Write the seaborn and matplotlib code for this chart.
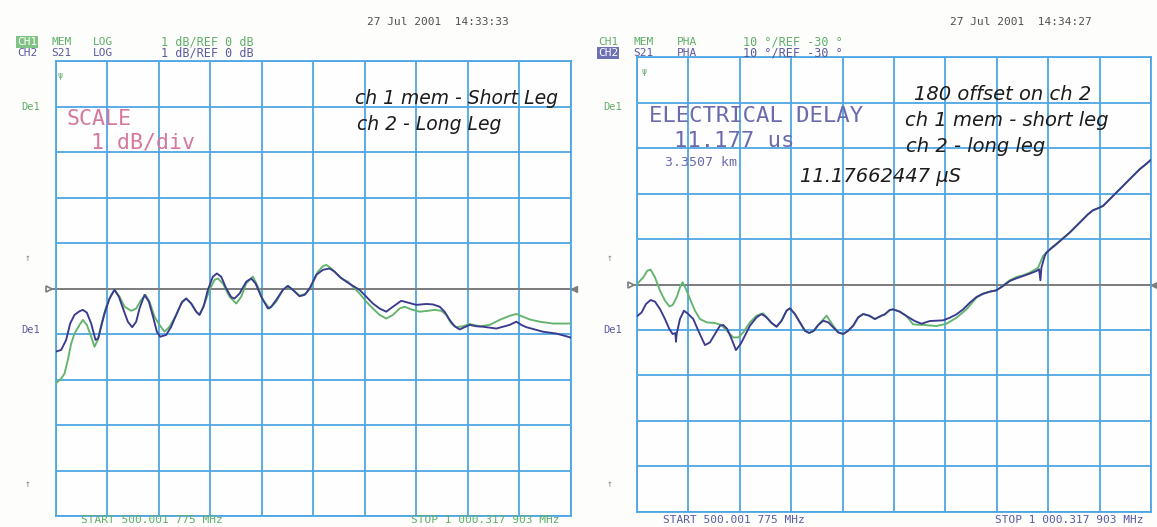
import numpy as np
import pandas as pd
import matplotlib
matplotlib.use("Agg")
import matplotlib.pyplot as plt
import seaborn as sns

# ---------------------------------------------------------------------------
# Sweep settings
# ---------------------------------------------------------------------------
f_start = 500.001775
f_stop = 1000.317903

# Magnitude display (LOG, 1 dB/div, ref 0 dB) -- CH2 S21 (long leg)
mag_freq_ch2 = [500.0, 505.5, 510.35, 514.24, 518.44, 523.30, 526.54, 530.42, 534.63, 538.83,
                541.42, 544.33, 547.57, 552.42, 557.28, 561.49, 566.02, 570.22, 574.43, 578.31,
                581.55, 586.40, 590.61, 595.14, 598.38, 601.61, 607.44, 612.29, 617.15, 622.97,
                626.86, 631.71, 636.57, 639.80, 643.69, 647.89, 652.75, 656.63, 660.84, 665.69,
                670.55, 673.78, 678.64, 685.11, 689.96, 694.17, 699.67, 706.14, 709.38, 714.23,
                720.71, 725.56, 730.42, 736.89, 741.74, 746.60, 753.07, 759.54, 766.01, 770.87,
                775.72, 782.19, 787.05, 795.14, 801.61, 808.08, 814.56, 821.03, 827.50, 835.59,
                842.06, 850.15, 859.86, 866.34, 872.81, 877.66, 882.52, 887.37, 892.23, 897.08,
                901.93, 908.41, 914.88, 921.35, 927.82, 934.30, 940.77, 947.24, 952.09, 956.95,
                966.66, 973.13, 986.07, 997.40, 1000.0]
mag_db_ch2 = [-1.39, -1.35, -1.13, -0.77, -0.58, -0.50, -0.47, -0.53, -0.77, -1.13,
              -1.10, -0.84, -0.55, -0.22, -0.03, -0.18, -0.47, -0.73, -0.85, -0.73,
              -0.44, -0.14, -0.29, -0.66, -0.95, -1.06, -1.02, -0.84, -0.58, -0.29,
              -0.22, -0.33, -0.51, -0.58, -0.40, -0.03, 0.26, 0.33, 0.26, 0.00,
              -0.19, -0.22, -0.11, 0.15, 0.22, 0.11, -0.18, -0.44, -0.40, -0.25,
              -0.03, 0.06, -0.03, -0.17, -0.14, 0.00, 0.30, 0.41, 0.44, 0.37,
              0.26, 0.15, 0.08, -0.03, -0.18, -0.33, -0.44, -0.51, -0.40, -0.27,
              -0.31, -0.36, -0.34, -0.35, -0.40, -0.51, -0.69, -0.83, -0.90, -0.85,
              -0.80, -0.83, -0.84, -0.86, -0.88, -0.84, -0.80, -0.73, -0.80, -0.85,
              -0.91, -0.95, -0.99, -1.06, -1.08]

# Magnitude display -- CH1 MEM (short leg)
mag_freq_ch1 = [500.0, 505.50, 508.74, 511.97, 515.21, 518.44, 523.30, 526.54, 530.42, 534.63,
                537.86, 541.10, 544.33, 549.19, 554.04, 557.28, 562.13, 566.99, 573.46, 578.31,
                583.17, 587.38, 591.26, 596.11, 600.97, 605.82, 610.68, 617.15, 622.00, 626.86,
                631.71, 636.57, 639.80, 644.66, 649.51, 654.37, 657.60, 662.46, 668.93, 675.40,
                680.25, 685.11, 691.58, 696.44, 701.29, 707.76, 714.23, 720.71, 725.56, 730.42,
                736.89, 743.36, 748.21, 754.69, 759.54, 762.78, 767.63, 772.49, 777.34, 783.81,
                788.67, 795.14, 801.61, 808.08, 814.56, 821.03, 827.50, 833.98, 838.83, 845.30,
                853.39, 861.48, 867.95, 874.43, 879.28, 884.13, 888.99, 895.46, 901.93, 911.64,
                921.35, 931.06, 940.77, 947.24, 953.72, 960.19, 969.90, 982.84, 997.40, 1000.0]
mag_db_ch1 = [-2.09, -1.98, -1.87, -1.57, -1.21, -0.99, -0.80, -0.69, -0.80, -1.06,
              -1.28, -1.13, -0.80, -0.40, -0.14, -0.03, -0.18, -0.40, -0.49, -0.44,
              -0.25, -0.14, -0.29, -0.62, -0.80, -0.95, -0.84, -0.58, -0.33, -0.22,
              -0.33, -0.51, -0.58, -0.33, -0.03, 0.19, 0.22, 0.11, -0.18, -0.33,
              -0.18, 0.11, 0.26, 0.04, -0.25, -0.44, -0.29, -0.03, 0.04, -0.03,
              -0.16, -0.11, 0.04, 0.37, 0.49, 0.52, 0.44, 0.33, 0.22, 0.15,
              0.04, -0.11, -0.29, -0.44, -0.58, -0.66, -0.58, -0.44, -0.40, -0.46,
              -0.51, -0.49, -0.47, -0.49, -0.58, -0.77, -0.85, -0.83, -0.78, -0.83,
              -0.80, -0.69, -0.60, -0.56, -0.62, -0.68, -0.73, -0.77, -0.77, -0.77]

# Phase display (PHA, 10 deg/div, ref -30 deg) -- CH2 S21
phase_freq_ch2 = [500.0, 504.54, 508.76, 513.30, 517.51, 522.38, 527.24, 531.46, 534.70, 537.29,
                  537.94, 538.59, 541.83, 545.72, 549.94, 554.80, 559.67, 566.15, 571.02, 575.88,
                  580.74, 583.99, 587.88, 592.09, 596.31, 600.85, 605.06, 609.93, 616.41, 621.28,
                  626.14, 631.00, 635.87, 640.73, 645.60, 648.84, 653.70, 658.56, 663.43, 667.65,
                  672.18, 676.40, 681.26, 686.12, 690.99, 695.85, 700.72, 705.58, 710.44, 715.31,
                  720.17, 726.01, 731.52, 738.00, 741.24, 746.11, 749.35, 755.83, 762.32, 770.42,
                  776.91, 785.02, 797.99, 804.47, 810.96, 817.44, 823.93, 830.41, 836.90, 843.38,
                  849.87, 856.35, 862.84, 869.32, 875.81, 882.29, 888.78, 891.37, 892.67, 893.64,
                  896.88, 898.50, 903.37, 908.23, 914.72, 921.20, 927.69, 934.17, 939.03, 943.90,
                  948.76, 953.63, 958.49, 963.35, 969.84, 976.32, 982.81, 989.29, 994.16, 998.37,
                  1000.0]
phase_deg_ch2 = [-37.01, -36.13, -34.29, -33.41, -33.78, -35.40, -37.60, -39.80, -40.90, -40.68,
                 -42.59, -40.90, -37.60, -35.76, -36.50, -37.60, -40.17, -43.33, -42.74, -40.90,
                 -39.07, -38.92, -39.80, -42.00, -44.43, -43.11, -41.27, -39.07, -37.23, -36.50,
                 -37.23, -38.48, -39.29, -37.97, -35.76, -35.25, -36.50, -38.33, -40.17, -40.68,
                 -40.17, -38.92, -37.97, -38.33, -39.43, -40.54, -40.90, -40.17, -39.07, -37.23,
                 -36.50, -36.86, -37.60, -36.86, -36.57, -35.60, -35.47, -35.98, -36.94, -38.04,
                 -38.63, -38.04, -37.89, -37.31, -36.57, -35.47, -34.00, -32.75, -32.02, -31.58,
                 -31.28, -30.33, -29.23, -28.64, -28.13, -27.61, -27.03, -26.66, -29.08, -26.29,
                 -23.72, -22.99, -22.03, -21.15, -19.83, -18.58, -17.11, -15.65, -14.54, -13.66,
                 -13.22, -12.71, -11.61, -10.51, -9.04, -7.57, -6.10, -4.63, -3.75, -2.94,
                 -2.60]

# Phase display -- CH1 MEM
phase_freq_ch1 = [500.0, 506.17, 510.06, 513.30, 517.51, 522.38, 527.24, 531.46, 534.70, 538.59,
                  541.83, 544.43, 547.67, 551.56, 556.42, 561.29, 567.77, 575.88, 582.36, 588.85,
                  593.71, 598.58, 603.44, 609.93, 616.41, 622.89, 626.14, 631.00, 635.87, 640.73,
                  645.60, 648.84, 653.70, 658.56, 663.43, 667.65, 672.18, 676.40, 684.50, 690.99,
                  695.85, 700.72, 705.58, 710.44, 715.31, 720.17, 726.01, 731.52, 738.00, 741.24,
                  746.11, 749.35, 755.83, 762.32, 768.80, 780.15, 791.50, 801.23, 810.96, 820.68,
                  830.41, 836.90, 843.38, 849.87, 856.35, 862.84, 869.32, 875.81, 882.29, 890.40,
                  895.26, 903.37, 908.23, 914.72, 921.20, 927.69, 934.17, 939.03, 943.90, 948.76,
                  953.63, 958.49, 963.35, 969.84, 976.32, 982.81, 989.29, 994.16, 998.37, 1000.0]
phase_deg_ch1 = [-29.89, -28.42, -26.95, -26.73, -28.42, -31.36, -33.56, -34.81, -34.52, -32.83,
                 -30.62, -29.52, -30.99, -33.19, -35.76, -37.60, -38.33, -38.48, -38.92, -40.54,
                 -41.64, -41.64, -40.54, -38.33, -36.86, -36.35, -37.23, -38.48, -39.29, -37.97,
                 -35.76, -35.25, -36.50, -38.33, -40.17, -40.68, -40.17, -38.92, -36.86, -39.07,
                 -40.54, -40.90, -40.17, -39.07, -37.23, -36.50, -36.86, -37.60, -36.86, -36.57,
                 -35.60, -35.47, -35.98, -36.94, -38.77, -38.92, -39.14, -38.63, -37.31, -35.47,
                 -32.90, -32.02, -31.58, -31.28, -30.18, -29.08, -28.35, -27.98, -27.39, -26.29,
                 -23.72, -21.89, -21.01, -19.83, -18.58, -17.11, -15.65, -14.54, -13.66, -13.22,
                 -12.71, -11.61, -10.51, -9.04, -7.57, -6.10, -4.63, -3.75, -2.94, -2.60]

# ---------------------------------------------------------------------------
# Styling
# ---------------------------------------------------------------------------
W, H = 1157, 527
GRID = "#4ea6e4"
GREEN = "#62b46c"
PURPLE = "#3a3a8e"
REFGRAY = "#7d7d7d"
HDR_GREEN = "#5fae68"
HDR_PURPLE = "#5a5a9e"
PINK = "#d4789e"
DELAY_PURPLE = "#6a6aac"
INK = "#1c1c1c"
MONO = "DejaVu Sans Mono"

sns.set_theme(style="white")
plt.rcParams["font.family"] = ["DejaVu Sans"]

fig = plt.figure(figsize=(W / 100, H / 100), dpi=100)
fig.patch.set_facecolor("#fdfdfc")


def px(x, y):
    """Pixel position (from top-left) to figure fraction."""
    return x / W, 1 - y / H


def panel(rect, ymin, ymax, ystep, ref, traces):
    ax = fig.add_axes(rect)
    ax.set_facecolor("#fefefe")
    for freq, vals, color in traces:
        df = pd.DataFrame({"freq": freq, "val": vals})
        sns.lineplot(data=df, x="freq", y="val", ax=ax, color=color, lw=1.35,
                     sort=False, estimator=None, zorder=3,
                     solid_joinstyle="round", solid_capstyle="round")
    ax.set_xlim(f_start, f_stop)
    ax.set_ylim(ymin, ymax)
    ax.set_xticks(np.linspace(f_start, f_stop, 11))
    ax.set_yticks(np.arange(ymin, ymax + ystep / 2, ystep))
    ax.tick_params(length=0, labelbottom=False, labelleft=False)
    ax.set_xlabel("")
    ax.set_ylabel("")
    ax.grid(True, color=GRID, lw=1.3)
    ax.set_axisbelow(True)
    for s in ax.spines.values():
        s.set_color(GRID)
        s.set_linewidth(1.3)
    span = f_stop - f_start
    xl, xr = f_start - 0.012 * span, f_stop + 0.006 * span
    ax.plot([xl, xr], [ref, ref], color=REFGRAY, lw=1.4, clip_on=False, zorder=2)
    ax.plot([xl], [ref], marker=">", ms=5, mfc="white", mec=REFGRAY, mew=1.2,
            clip_on=False, zorder=4)
    ax.plot([xr], [ref], marker="<", ms=5, mfc=REFGRAY, mec=REFGRAY,
            clip_on=False, zorder=4)
    return ax


# 10 x 10 graticule: 1 dB/div around 0 dB, 10 deg/div around -30 deg
ax1 = panel([55.5 / W, 1 - 516 / H, 515.5 / W, 455 / H], -5, 5, 1, 0,
            [(mag_freq_ch1, mag_db_ch1, GREEN), (mag_freq_ch2, mag_db_ch2, PURPLE)])
ax2 = panel([637 / W, 1 - 511.7 / H, 514 / W, 454.4 / H], -80, 20, 10, -30,
            [(phase_freq_ch1, phase_deg_ch1, GREEN), (phase_freq_ch2, phase_deg_ch2, PURPLE)])


def t(x, y, s, color, size=8, family=MONO, **kw):
    fig.text(*px(x, y), s, color=color, fontsize=size, family=family,
             va="center", ha="left", **kw)


hdr_box = dict(boxstyle="square,pad=0.08", lw=0)

# --- header, magnitude panel
t(367, 22, "27 Jul 2001  14:33:33", "#505050")
t(17, 42, "CH1", "white", bbox=dict(hdr_box, fc="#7fc485"))
t(51, 42, "MEM", HDR_GREEN)
t(93, 42, "LOG", HDR_GREEN)
t(161, 42, "1 dB/REF 0 dB", HDR_GREEN, size=8.5)
t(17, 53, "CH2", HDR_PURPLE)
t(51, 53, "S21", HDR_PURPLE)
t(93, 53, "LOG", HDR_PURPLE)
t(161, 53, "1 dB/REF 0 dB", HDR_PURPLE, size=8.5)

# --- header, phase panel
t(950, 22, "27 Jul 2001  14:34:27", "#505050")
t(598, 42, "CH1", HDR_GREEN)
t(633, 42, "MEM", HDR_GREEN)
t(677, 42, "PHA", HDR_GREEN)
t(743, 42, "10 \u00b0/REF -30 \u00b0", HDR_GREEN, size=8.5)
t(598, 53, "CH2", "white", bbox=dict(hdr_box, fc="#6f6fb4"))
t(633, 53, "S21", HDR_PURPLE)
t(677, 53, "PHA", HDR_PURPLE)
t(743, 53, "10 \u00b0/REF -30 \u00b0", HDR_PURPLE, size=8.5)

# --- side annotations
for x0 in (21, 603):
    t(x0, 107, "De1", HDR_GREEN, size=7.5)
    t(x0, 330, "De1", HDR_PURPLE, size=7.5)
    t(x0 + 4, 258, "\u2191", "#8a8a8a", size=7)
    t(x0 + 4, 484, "\u2191", "#8a8a8a", size=7)
t(58, 75, "\u03c8", HDR_GREEN, size=6)
t(641, 72, "\u03c8", HDR_GREEN, size=6)

# --- footer
t(81, 520, "START 500.001 775 MHz", HDR_GREEN)
t(411, 520, "STOP 1 000.317 903 MHz", HDR_GREEN)
t(663, 520, "START 500.001 775 MHz", HDR_PURPLE)
t(995, 520, "STOP 1 000.317 903 MHz", HDR_PURPLE)

# --- on-screen readouts
t(67, 119, "SCALE", PINK, size=15.5)
t(91, 143, "1 dB/div", PINK, size=15.5)
t(649, 116, "ELECTRICAL DELAY", DELAY_PURPLE, size=16)
t(674, 141, "11.177 us", DELAY_PURPLE, size=16)
t(665, 163, "3.3507 km", DELAY_PURPLE, size=9.5)

# --- pen notes
hand_l = dict(family="DejaVu Sans", style="italic", size=13.5)
hand_r = dict(family="DejaVu Sans", style="italic", size=14)
t(355, 98, "ch 1 mem - Short Leg", INK, **hand_l)
t(357, 124, "ch 2 - Long Leg", INK, **hand_l)
t(914, 95, "180 offset on ch 2", INK, **hand_r)
t(905, 120, "ch 1 mem - short leg", INK, **hand_r)
t(906, 146, "ch 2 - long leg", INK, **hand_r)
t(800, 176, "11.17662447 \u03bcS", INK, **hand_r)

fig.savefig("out.png", dpi=100, facecolor=fig.get_facecolor())
